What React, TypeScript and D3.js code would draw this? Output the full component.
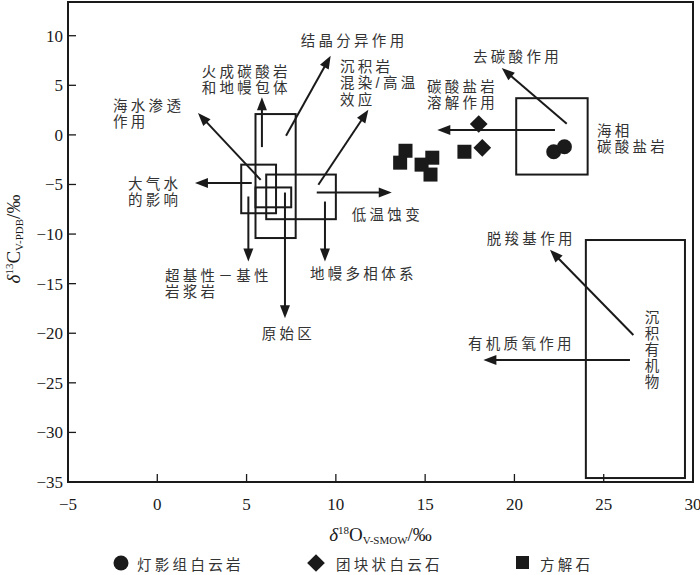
import React from 'react';
import * as d3 from 'd3';

const W = 700;
const H = 575;
const margin = { top: 2, right: 7, bottom: 93, left: 68 };

// axes
const xDomain = [-5, 30];
const yDomain = [-35, 13.4];
const xTicks = [-5, 0, 5, 10, 15, 20, 25, 30];
const yTicks = [10, 5, 0, -5, -10, -15, -20, -25, -30, -35];

// samples (δ18O, δ13C)
const dolomiteO = [22.2, 22.8];
const dolomiteC = [-1.7, -1.2];
const noduleO = [18.0, 18.2];
const noduleC = [1.1, -1.3];
const calciteO = [13.9, 13.6, 15.4, 14.8, 15.3, 17.2];
const calciteC = [-1.6, -2.8, -2.3, -3.0, -4.0, -1.7];

// field boxes
const fieldX0 = [5.5, 4.7, 5.5, 6.1, 20.1, 24.0];
const fieldX1 = [7.75, 6.65, 7.5, 10.0, 24.1, 29.55];
const fieldY0 = [2.1, -3.0, -5.3, -4.0, 3.7, -10.6];
const fieldY1 = [-10.4, -7.9, -7.3, -8.5, -4.0, -34.6];

// process arrows
const arrowFromX = [5.86, 7.21, 5.79, 5.29, 9.02, 8.93, 5.1, 7.15, 9.39, 22.93, 22.27, 26.66, 26.47];
const arrowFromY = [-1.23, -0.09, -4.53, -4.86, -5.03, -5.81, -6.21, -5.81, -6.72, 1.12, 0.5, -20.17, -22.69];
const arrowToX = [5.86, 9.71, 2.28, 2.11, 11.82, 13.13, 5.1, 7.15, 9.39, 19.29, 15.68, 21.99, 18.26];
const arrowToY = [3.8, 7.98, 2.2, -4.86, 2.53, -5.81, -12.77, -18.48, -12.77, 6.74, 0.5, -11.59, -22.69];

// annotation labels
const labelText = [
  ['结晶分异作用'],
  ['火成碳酸岩', '和地幔包体'],
  ['沉积岩', '混染/高温', '效应'],
  ['海水渗透', '作用'],
  ['大气水', '的影响'],
  ['超基性－基性', '岩浆岩'],
  ['原始区'],
  ['地幔多相体系'],
  ['低温蚀变'],
  ['去碳酸作用'],
  ['碳酸盐岩', '溶解作用'],
  ['海相', '碳酸盐岩'],
  ['脱羧基作用'],
  ['有机质氧作用'],
];
const labelX = [8.03, 2.49, 10.23, -2.48, -1.64, 0.43, 5.85, 8.55, 10.89, 17.68, 15.1, 24.62, 18.45, 17.4];
const labelY = [8.99, 5.86, 6.37, 2.43, -5.44, -14.69, -20.57, -14.52, -8.57, 7.38, 4.35, -0.09, -10.99, -21.58];
const verticalLabel = '沉积有机物';
const verticalX = 27.62;
const verticalY = -19.06;

const legendNames = ['灯影组白云岩', '团块状白云石', '方解石'];

const ink = '#1a1a1a';
const cjk = '"Liberation Sans", "Noto Sans CJK SC", sans-serif';
const serif = '"Liberation Serif", "DejaVu Serif", serif';

function arrowHead(x1: number, y1: number, x2: number, y2: number) {
  const a = Math.atan2(y2 - y1, x2 - x1);
  const len = 13, hw = 5;
  const bx = x2 - len * Math.cos(a), by = y2 - len * Math.sin(a);
  const px = -Math.sin(a) * hw, py = Math.cos(a) * hw;
  return `M${x2},${y2}L${bx + px},${by + py}L${bx - px},${by - py}Z`;
}

export default function App() {
  const x = d3.scaleLinear().domain(xDomain).range([margin.left, W - margin.right]);
  const y = d3.scaleLinear().domain(yDomain).range([H - margin.bottom, margin.top]);
  const x0 = x(xDomain[0]), x1 = x(xDomain[1]);
  const yb = y(yDomain[0]), yt = y(yDomain[1]);
  const fmt = d3.format('d');
  const diamond = d3.symbol().type(d3.symbolDiamond2).size(200);

  return (
    <svg width={W} height={H} style={{ position: 'absolute', left: 0, top: 0, background: '#fff' }}>
      {/* frame */}
      <rect x={x0} y={yt} width={x1 - x0} height={yb - yt} fill="none" stroke={ink} strokeWidth={2} />
      {xTicks.map(t => (
        <g key={'xt' + t}>
          <line x1={x(t)} x2={x(t)} y1={yb} y2={yb - 8} stroke={ink} strokeWidth={1.3} />
          <text x={x(t)} y={yb + 28} textAnchor="middle" fontFamily={serif} fontSize={17} fill={ink}>{fmt(t)}</text>
        </g>
      ))}
      {yTicks.map(t => (
        <g key={'yt' + t}>
          <line x1={x0} x2={x0 + 8} y1={y(t)} y2={y(t)} stroke={ink} strokeWidth={1.3} />
          <text x={x0 - 5} y={y(t) + 6} textAnchor="end" fontFamily={serif} fontSize={17} fill={ink}>{fmt(t)}</text>
        </g>
      ))}

      {/* axis titles */}
      <text x={(x0 + x1) / 2} y={541} textAnchor="middle" fontFamily={serif} fontSize={19} fill={ink}>
        <tspan fontStyle="italic">δ</tspan>
        <tspan fontSize={11} dy={-7}>18</tspan>
        <tspan dy={7}>O</tspan>
        <tspan fontSize={11} dy={3}>V-SMOW</tspan>
        <tspan dy={-3}>/‰</tspan>
      </text>
      <text transform={`translate(20,${(yt + yb) / 2 - 3}) rotate(-90)`} textAnchor="middle" fontFamily={serif} fontSize={19} fill={ink}>
        <tspan fontStyle="italic">δ</tspan>
        <tspan fontSize={11} dy={-7}>13</tspan>
        <tspan dy={7}>C</tspan>
        <tspan fontSize={11} dy={3}>V-PDB</tspan>
        <tspan dy={-3}>/‰</tspan>
      </text>

      {/* field boxes */}
      {fieldX0.map((v, i) => (
        <rect key={'f' + i} x={x(v)} y={y(fieldY0[i])} width={x(fieldX1[i]) - x(v)} height={y(fieldY1[i]) - y(fieldY0[i])}
          fill="none" stroke={ink} strokeWidth={2} />
      ))}

      {/* arrows */}
      {arrowFromX.map((v, i) => {
        const ax = x(v), ay = y(arrowFromY[i]), bx = x(arrowToX[i]), by = y(arrowToY[i]);
        const ang = Math.atan2(by - ay, bx - ax);
        return (
          <g key={'a' + i}>
            <line x1={ax} y1={ay} x2={bx - 8 * Math.cos(ang)} y2={by - 8 * Math.sin(ang)} stroke={ink} strokeWidth={2} />
            <path d={arrowHead(ax, ay, bx, by)} fill={ink} />
          </g>
        );
      })}

      {/* labels */}
      {labelText.map((lines, i) => (
        <text key={'l' + i} x={x(labelX[i])} y={y(labelY[i])} fontFamily={cjk} fontSize={14.5} letterSpacing={3.3} fill="#333">
          {lines.map((s, j) => (
            <tspan key={j} x={x(labelX[i])} dy={j === 0 ? 0 : 16.5}>{s}</tspan>
          ))}
        </text>
      ))}
      <text x={x(verticalX)} y={y(verticalY) - 14} fontFamily={cjk} fontSize={14.5} letterSpacing={1.5} fill="#333"
        style={{ writingMode: 'vertical-rl' }}>{verticalLabel}</text>

      {/* samples */}
      {calciteO.map((v, i) => (
        <rect key={'c' + i} x={x(v) - 7} y={y(calciteC[i]) - 7} width={14} height={14} fill={ink} />
      ))}
      {noduleO.map((v, i) => (
        <path key={'n' + i} d={diamond()!} transform={`translate(${x(v)},${y(noduleC[i])})`} fill={ink} />
      ))}
      {dolomiteO.map((v, i) => (
        <circle key={'d' + i} cx={x(v)} cy={y(dolomiteC[i])} r={7.5} fill={ink} />
      ))}

      {/* legend */}
      <circle cx={121} cy={563} r={7.5} fill={ink} />
      <path d={diamond()!} transform="translate(316,563)" fill={ink} />
      <rect x={516} y={556} width={13} height={13} fill={ink} />
      {legendNames.map((s, i) => (
        <text key={'lg' + i} x={[137, 336, 540][i]} y={570} fontFamily={cjk} fontSize={14.5} letterSpacing={3.3} fill="#333">{s}</text>
      ))}
    </svg>
  );
}
